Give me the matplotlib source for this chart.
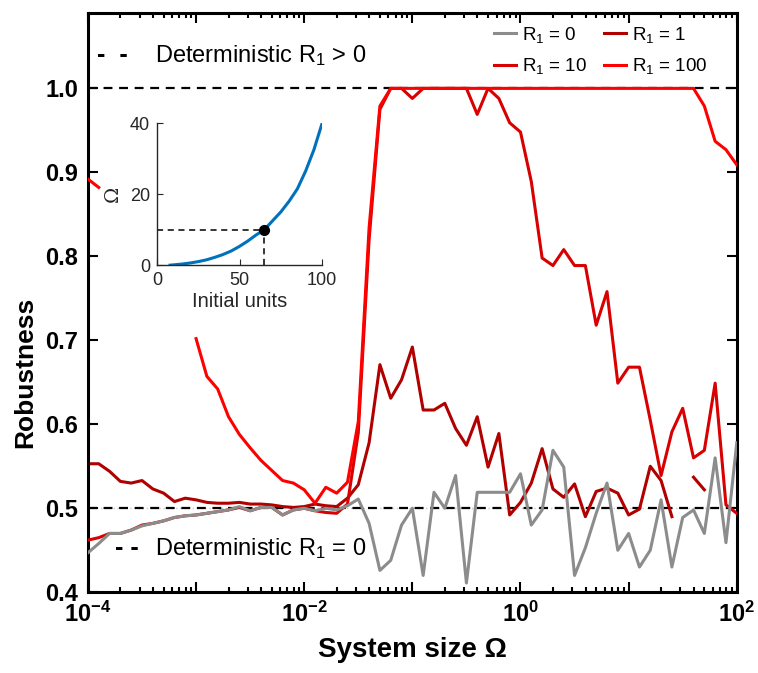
import numpy as np
import matplotlib
matplotlib.use('Agg')
import matplotlib.pyplot as plt
from matplotlib.ticker import LogLocator, NullFormatter

plt.rcParams['font.family'] = ['Liberation Sans', 'DejaVu Sans']
plt.rcParams['mathtext.fontset'] = 'custom'
plt.rcParams['mathtext.rm'] = 'Liberation Sans'
plt.rcParams['mathtext.it'] = 'Liberation Sans:italic'
plt.rcParams['mathtext.bf'] = 'Liberation Sans:bold'

nan = np.nan

# system size grid, 10 points per decade from 1e-4 to 1e2
log_omega = np.linspace(-4, 2, 61)
omega = 10.0 ** log_omega

# robustness for each R1 value
rob_r0 = [0.447, 0.458, 0.470, 0.470, 0.474, 0.479, 0.482, 0.485, 0.489, 0.491,
          0.492, 0.494, 0.496, 0.498, 0.502, 0.497, 0.501, 0.501, 0.492, 0.498,
          0.500, 0.497, 0.500, 0.498, 0.503, 0.511, 0.482, 0.426, 0.438, 0.480,
          0.500, 0.420, 0.519, 0.500, 0.539, 0.411, 0.519, 0.519, 0.519, 0.519,
          0.541, 0.480, 0.498, 0.569, 0.549, 0.420, 0.453, 0.494, 0.530, 0.450,
          0.470, 0.430, 0.450, 0.510, 0.430, 0.489, 0.498, 0.470, 0.560, 0.459,
          0.578]

rob_r1 = [0.553, 0.553, 0.544, 0.532, 0.530, 0.533, 0.523, 0.518, 0.508, 0.512,
          0.510, 0.507, 0.506, 0.506, 0.507, 0.505, 0.505, 0.504, 0.502, 0.501,
          0.502, 0.505, 0.503, 0.502, 0.512, 0.528, 0.578, 0.671, 0.631, 0.653,
          0.692, 0.617, 0.617, 0.625, 0.595, 0.575, 0.609, 0.549, 0.589, 0.492,
          0.507, 0.530, 0.571, 0.523, 0.513, 0.529, 0.490, 0.520, 0.524, 0.518,
          0.492, 0.499, 0.550, 0.533, 0.490, nan, 0.537, 0.522, nan, nan,
          nan]

rob_r10 = [0.462, 0.465, 0.470, 0.470, 0.474, 0.480, 0.482, 0.485, 0.489, 0.491,
           0.492, 0.494, 0.496, 0.498, 0.501, 0.497, 0.501, 0.501, 0.492, 0.498,
           0.500, 0.497, 0.495, 0.494, 0.505, 0.590, 0.820, 0.975, 1.000, 1.000,
           0.988, 1.000, 1.000, 1.000, 1.000, 1.000, 0.969, 1.000, 0.988, 0.959,
           0.948, 0.889, 0.798, 0.789, 0.808, 0.789, 0.789, 0.718, 0.758, 0.649,
           0.668, 0.668, 0.605, 0.539, 0.591, 0.619, 0.560, 0.569, 0.649, 0.504,
           0.494]

rob_r100 = [0.892, 0.882, nan, nan, nan, nan, nan, nan, nan, nan,
            0.702, 0.657, 0.642, 0.609, 0.588, 0.572, 0.557, 0.545, 0.533, 0.530,
            0.522, 0.506, 0.525, 0.518, 0.531, 0.603, 0.834, 0.979, 1.000, 1.000,
            1.000, 1.000, 1.000, 1.000, 1.000, 1.000, 1.000, 1.000, 1.000, 1.000,
            1.000, 1.000, 1.000, 1.000, 1.000, 1.000, 1.000, 1.000, 1.000, 1.000,
            1.000, 1.000, 1.000, 1.000, 1.000, 1.000, 1.000, 0.979, 0.937, 0.927,
            0.909]

det_high = 1.0   # deterministic R1 > 0
det_low = 0.5    # deterministic R1 = 0

# inset: system size vs initial units
init_units = [8, 15, 20, 25, 30, 35, 40, 45, 50, 55, 60, 65, 70, 75, 80, 85, 90, 95, 100]
inset_omega = [0.0, 0.3, 0.6, 1.0, 1.5, 2.2, 3.0, 4.0, 5.3, 6.8, 8.5, 10.0, 12.5,
               15.0, 18.0, 21.5, 26.5, 32.5, 40.0]
mark_units = 65
mark_omega = 10

fig = plt.figure(figsize=(7.58, 6.73), dpi=100)
ax = fig.add_axes([0.116, 0.120, 0.856, 0.861])

ax.axhline(det_low, color='#c8c8c8', lw=1.0, ls=(0, (1, 2)), zorder=1)
ax.axhline(det_low, color='black', lw=1.6, ls=(0, (4, 3)), zorder=1.5)
ax.axhline(det_high, color='black', lw=1.6, ls=(0, (4, 3)), zorder=1.5)

l1, = ax.plot(omega, rob_r1, color='#b00000', lw=2.2, label='R$_1$ = 1', zorder=2)
l10, = ax.plot(omega, rob_r10, color='#d80000', lw=2.2, label='R$_1$ = 10', zorder=3)
l0, = ax.plot(omega, rob_r0, color='#8c8c8c', lw=2.2, label='R$_1$ = 0', zorder=4)
l100, = ax.plot(omega, rob_r100, color='#ff0000', lw=2.2, label='R$_1$ = 100', zorder=5)

ax.set_xscale('log')
ax.set_xlim(1e-4, 1e2)
ax.set_ylim(0.4, 1.09)

decades = np.arange(-4, 3)
ax.set_xticks(10.0 ** decades)
ax.set_xticklabels([r'$\mathbf{10^{%d}}$' % d if d % 2 == 0 else '' for d in decades])
ax.xaxis.set_minor_locator(LogLocator(base=10, subs=np.arange(2, 10), numticks=20))
ax.xaxis.set_minor_formatter(NullFormatter())
ax.set_yticks([0.4, 0.5, 0.6, 0.7, 0.8, 0.9, 1.0])
ax.set_yticklabels(['0.4', '0.5', '0.6', '0.7', '0.8', '0.9', '1.0'], fontweight='bold')

ax.tick_params(which='both', direction='in', top=True, right=True, width=1.5)
ax.tick_params(which='major', length=7, labelsize=17, pad=7)
ax.tick_params(which='minor', length=3.5)
for s in ax.spines.values():
    s.set_linewidth(2.2)

ax.set_xlabel('System size Ω', fontsize=20, fontweight='bold')
ax.set_ylabel('Robustness', fontsize=19, fontweight='bold')
ax.xaxis.set_label_coords(0.5, -0.078)
ax.yaxis.set_label_coords(-0.078, 0.38)

leg = ax.legend(handles=[l0, l10, l1, l100], ncol=2, loc='upper right',
                bbox_to_anchor=(0.970, 0.995), frameon=False, fontsize=13.5,
                handlelength=1.15, handletextpad=0.35, columnspacing=0.9,
                labelspacing=0.6, borderpad=0)

# deterministic reference labels (dash sample + text)
ax.text(0.014, 0.927, '-  -', transform=ax.transAxes, fontsize=18,
        fontweight='bold', va='center', ha='left')
ax.text(0.103, 0.927, 'Deterministic R$_1$ > 0', transform=ax.transAxes,
        fontsize=17, va='center', ha='left')
ax.text(0.042, 0.076, '- -', transform=ax.transAxes, fontsize=18,
        fontweight='bold', va='center', ha='left')
ax.text(0.104, 0.076, 'Deterministic R$_1$ = 0', transform=ax.transAxes,
        fontsize=17, va='center', ha='left')

# inset
axi = fig.add_axes([0.207, 0.606, 0.218, 0.211])
axi.plot(init_units, inset_omega, color='#0072bd', lw=2.2)
axi.plot([0, mark_units], [mark_omega, mark_omega], color='black', lw=1.1, ls=(0, (4, 3)))
axi.plot([mark_units, mark_units], [0, mark_omega], color='black', lw=1.1, ls=(0, (4, 3)))
axi.plot([mark_units], [mark_omega], 'o', color='black', ms=7)
axi.set_xlim(0, 100)
axi.set_ylim(0, 40)
axi.set_xticks([0, 50, 100])
axi.set_yticks([0, 20, 40])
axi.spines['top'].set_visible(False)
axi.spines['right'].set_visible(False)
for s in ['left', 'bottom']:
    axi.spines[s].set_linewidth(1.0)
    axi.spines[s].set_color('#262626')
axi.tick_params(direction='in', length=4, labelsize=13, colors='#262626', pad=5)
axi.set_xlabel('Initial units', fontsize=14.5, color='#262626', labelpad=2)
axi.set_ylabel('Ω', fontsize=14, color='#262626', labelpad=6, family='DejaVu Serif')
axi.patch.set_alpha(0)

fig.savefig('out.png', dpi=100)
